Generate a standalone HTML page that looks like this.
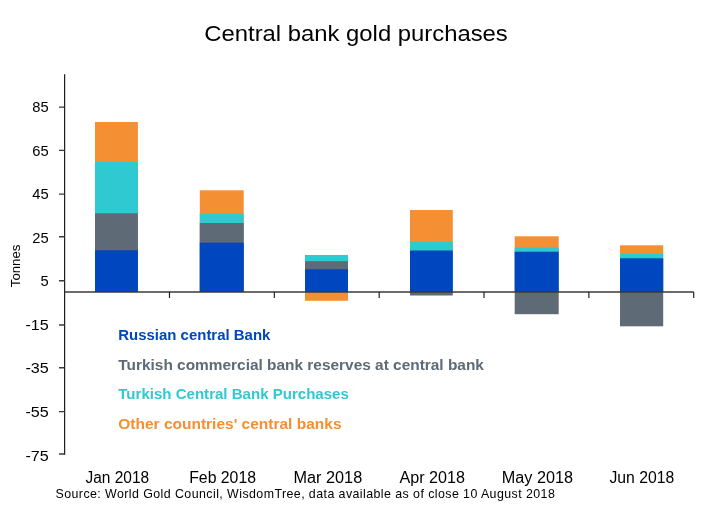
<!DOCTYPE html>
<html lang="en"><head><meta charset="utf-8"><title>Central bank gold purchases</title>
<style>html,body{margin:0;padding:0;background:#fff}body{width:714px;height:516px;overflow:hidden}svg{display:block}text{font-family:"Liberation Sans",Arial,sans-serif}.b{font-weight:bold}</style></head><body>
<svg width="714" height="516" viewBox="0 0 714 516" fill="#000">
<rect width="714" height="516" fill="#fff"/>
<text x="204.3" y="40.6" font-size="22" textLength="303.5" lengthAdjust="spacingAndGlyphs">Central bank gold purchases</text>
<rect x="95.0" y="122.0" width="42.9" height="170.0" fill="#F58F33"/>
<rect x="95.0" y="161.7" width="42.9" height="130.3" fill="#2FC9D1"/>
<rect x="95.0" y="213.3" width="42.9" height="78.7" fill="#5E6A75"/>
<rect x="95.0" y="250.3" width="42.9" height="41.7" fill="#0046BE"/>
<rect x="199.8" y="190.3" width="43.9" height="101.7" fill="#F58F33"/>
<rect x="199.8" y="213.7" width="43.9" height="78.3" fill="#2FC9D1"/>
<rect x="199.8" y="223.0" width="43.9" height="69.0" fill="#5E6A75"/>
<rect x="199.8" y="242.7" width="43.9" height="49.3" fill="#0046BE"/>
<rect x="305.0" y="255.0" width="43.0" height="37.0" fill="#2FC9D1"/>
<rect x="305.0" y="261.2" width="43.0" height="30.8" fill="#5E6A75"/>
<rect x="305.0" y="269.3" width="43.0" height="22.7" fill="#0046BE"/>
<rect x="305.0" y="292.0" width="43.0" height="8.8" fill="#F58F33"/>
<rect x="410.0" y="210.0" width="42.8" height="82.0" fill="#F58F33"/>
<rect x="410.0" y="242.0" width="42.8" height="50.0" fill="#2FC9D1"/>
<rect x="410.0" y="250.5" width="42.8" height="41.5" fill="#0046BE"/>
<rect x="410.0" y="292.0" width="42.8" height="3.5" fill="#5E6A75"/>
<rect x="514.7" y="236.3" width="44.0" height="55.7" fill="#F58F33"/>
<rect x="514.7" y="247.7" width="44.0" height="44.3" fill="#2FC9D1"/>
<rect x="514.7" y="251.7" width="44.0" height="40.3" fill="#0046BE"/>
<rect x="514.7" y="292.0" width="44.0" height="22.2" fill="#5E6A75"/>
<rect x="620.0" y="245.3" width="43.2" height="46.7" fill="#F58F33"/>
<rect x="620.0" y="254.0" width="43.2" height="38.0" fill="#2FC9D1"/>
<rect x="620.0" y="258.3" width="43.2" height="33.7" fill="#0046BE"/>
<rect x="620.0" y="292.0" width="43.2" height="34.3" fill="#5E6A75"/>
<g stroke="#3a3a3a" stroke-width="1.35" fill="none">
<path stroke-width="1.2" stroke="#1c1c1c" d="M64.62 74.2V454.7"/>
<path d="M59 107.15H64.62M59 150.35H64.62M59 194.15H64.62M59 236.75H64.62M59 280.75H64.62M59 324.95H64.62M59 367.75H64.62M59 411.65H64.62M59 453.95H64.62"/>
<path d="M64.62 291.95H693.72"/>
<path stroke-width="1.15" stroke="#1c1c1c" d="M169.47 291.95V297.9M274.32 291.95V297.9M379.17 291.95V297.9M484.02 291.95V297.9M588.87 291.95V297.9M693.72 291.95V297.9"/>
</g>
<text x="32.3" y="112.0" font-size="15.2" textLength="16.4" lengthAdjust="spacingAndGlyphs">85</text>
<text x="32.3" y="155.5" font-size="15.2" textLength="16.4" lengthAdjust="spacingAndGlyphs">65</text>
<text x="32.3" y="198.5" font-size="15.2" textLength="16.4" lengthAdjust="spacingAndGlyphs">45</text>
<text x="32.3" y="242.7" font-size="15.2" textLength="16.4" lengthAdjust="spacingAndGlyphs">25</text>
<text x="40.5" y="285.7" font-size="15.2" textLength="8.2" lengthAdjust="spacingAndGlyphs">5</text>
<text x="25.4" y="330.0" font-size="15.2" textLength="23.3" lengthAdjust="spacingAndGlyphs">-15</text>
<text x="25.4" y="373.0" font-size="15.2" textLength="23.3" lengthAdjust="spacingAndGlyphs">-35</text>
<text x="25.4" y="417.0" font-size="15.2" textLength="23.3" lengthAdjust="spacingAndGlyphs">-55</text>
<text x="25.4" y="460.8" font-size="15.2" textLength="23.3" lengthAdjust="spacingAndGlyphs">-75</text>
<text transform="translate(20.3 287.2) rotate(-90)" font-size="12.5" textLength="42.6" lengthAdjust="spacingAndGlyphs">Tonnes</text>
<text class="b" x="118.3" y="340.2" font-size="14.6" fill="#0046BE" textLength="152.1" lengthAdjust="spacingAndGlyphs">Russian central Bank</text>
<text class="b" x="118.3" y="369.6" font-size="14.6" fill="#5E6A75" textLength="365.6" lengthAdjust="spacingAndGlyphs">Turkish commercial bank reserves at central bank</text>
<text class="b" x="118.3" y="399.2" font-size="14.6" fill="#2FC9D1" textLength="230.5" lengthAdjust="spacingAndGlyphs">Turkish Central Bank Purchases</text>
<text class="b" x="118.3" y="428.7" font-size="14.6" fill="#F58F33" textLength="223.2" lengthAdjust="spacingAndGlyphs">Other countries' central banks</text>
<text x="85.5" y="482.7" font-size="15.8" textLength="63.6" lengthAdjust="spacingAndGlyphs">Jan 2018</text>
<text x="189.2" y="482.7" font-size="15.8" textLength="66.8" lengthAdjust="spacingAndGlyphs">Feb 2018</text>
<text x="293.5" y="482.7" font-size="15.8" textLength="68.7" lengthAdjust="spacingAndGlyphs">Mar 2018</text>
<text x="399.5" y="482.7" font-size="15.8" textLength="65.5" lengthAdjust="spacingAndGlyphs">Apr 2018</text>
<text x="501.8" y="482.7" font-size="15.8" textLength="71.3" lengthAdjust="spacingAndGlyphs">May 2018</text>
<text x="609.4" y="482.7" font-size="15.8" textLength="64.8" lengthAdjust="spacingAndGlyphs">Jun 2018</text>
<text x="55.5" y="497.5" font-size="12.4" textLength="499.3" lengthAdjust="spacing">Source: World Gold Council, WisdomTree, data available as of close 10 August 2018</text>
</svg></body></html>
